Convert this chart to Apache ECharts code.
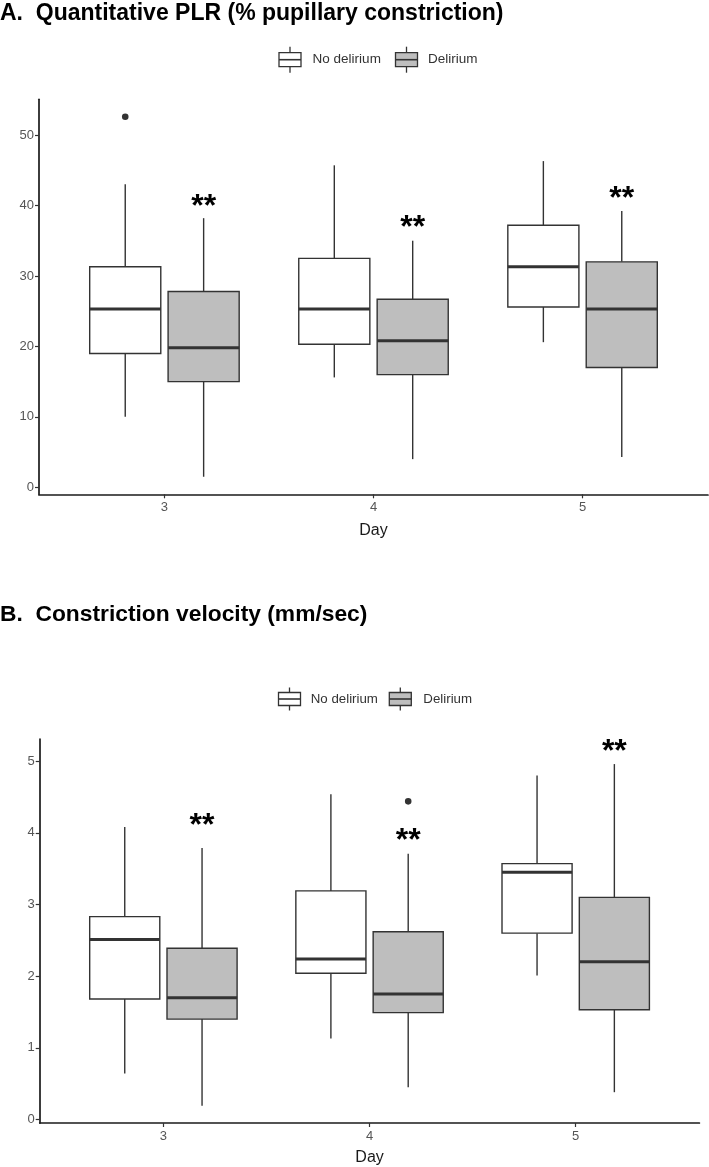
<!DOCTYPE html>
<html>
<head>
<meta charset="utf-8">
<script src="https://cdn.jsdelivr.net/npm/echarts@6/dist/echarts.min.js"></script>
<style>
html,body{margin:0;padding:0;background:#fff;}
#chart{width:709px;height:1167px;}
</style>
</head>
<body>
<div id="chart"></div>
<script>
// ---------- data ----------
const days = [3, 4, 5];
const groups = ['No delirium', 'Delirium'];

// Panel A: Quantitative PLR (% pupillary constriction)
// each row: [lower whisker, Q1, median, Q3, upper whisker]
const plrNoDelirium = [
  [10.0, 19.0, 25.3, 31.3, 43.0],
  [15.6, 20.3, 25.3, 32.5, 45.7],
  [20.6, 25.6, 31.3, 37.2, 46.3]
];
const plrDelirium = [
  [1.5, 15.0, 19.8, 27.8, 38.2],
  [4.0, 16.0, 20.8, 26.7, 35.0],
  [4.3, 17.0, 25.3, 32.0, 39.2]
];
const plrOutliersNoDelirium = [[3, 52.6]];
const plrOutliersDelirium = [];
const plrStars = [[3, 40.9], [4, 37.8], [5, 42.0]];
const plrTicks = [0, 10, 20, 30, 40, 50];

// Panel B: Constriction velocity (mm/sec)
const cvNoDelirium = [
  [0.64, 1.68, 2.51, 2.83, 4.08],
  [1.13, 2.04, 2.24, 3.19, 4.54],
  [2.01, 2.60, 3.45, 3.57, 4.80]
];
const cvDelirium = [
  [0.19, 1.40, 1.70, 2.39, 3.79],
  [0.45, 1.49, 1.75, 2.62, 3.71],
  [0.38, 1.53, 2.20, 3.10, 4.96]
];
const cvOutliersNoDelirium = [];
const cvOutliersDelirium = [[4, 4.44]];
const cvStars = [[3, 4.20], [4, 3.99], [5, 5.23]];
const cvTicks = [0, 1, 2, 3, 4, 5];

// ---------- styling ----------
const FONT = "'Liberation Sans', Arial, Helvetica, sans-serif";
const LINE = '#333333';
const FILL_ND = '#ffffff';
const FILL_D = '#bebebe';
const DODGE = 0.1875;
const HALF_W = 0.17;

function boxSeries(gridIdx, rows, offset, fill, name) {
  return {
    type: 'custom',
    name: name,
    xAxisIndex: gridIdx,
    yAxisIndex: gridIdx,
    data: rows.map((r, i) => [days[i]].concat(r)),
    encode: { x: 0, y: [1, 2, 3, 4, 5] },
    z: 3,
    renderItem: function (params, api) {
      const x = api.value(0) + offset;
      const lo = api.coord([x, api.value(1)]);
      const q1 = api.coord([x, api.value(2)]);
      const md = api.coord([x, api.value(3)]);
      const q3 = api.coord([x, api.value(4)]);
      const hi = api.coord([x, api.value(5)]);
      const left = api.coord([x - HALF_W, api.value(3)])[0];
      const right = api.coord([x + HALF_W, api.value(3)])[0];
      const st = { stroke: LINE, lineWidth: 1.4, fill: null };
      return {
        type: 'group',
        children: [
          { type: 'line', shape: { x1: q3[0], y1: q3[1], x2: hi[0], y2: hi[1] }, style: st },
          { type: 'line', shape: { x1: q1[0], y1: q1[1], x2: lo[0], y2: lo[1] }, style: st },
          { type: 'rect', shape: { x: left, y: q3[1], width: right - left, height: q1[1] - q3[1] },
            style: { fill: fill, stroke: LINE, lineWidth: 1.4 } },
          { type: 'line', shape: { x1: left, y1: md[1], x2: right, y2: md[1] },
            style: { stroke: LINE, lineWidth: 3 } }
        ]
      };
    }
  };
}

function outlierSeries(gridIdx, pts, offset) {
  return {
    type: 'custom',
    xAxisIndex: gridIdx,
    yAxisIndex: gridIdx,
    data: pts,
    encode: { x: 0, y: 1 },
    z: 4,
    renderItem: function (params, api) {
      const p = api.coord([api.value(0) + offset, api.value(1)]);
      return { type: 'circle', shape: { cx: p[0], cy: p[1], r: 3.3 }, style: { fill: LINE } };
    }
  };
}

function starSeries(gridIdx, pts, offset) {
  const fs = 32;
  return {
    type: 'custom',
    xAxisIndex: gridIdx,
    yAxisIndex: gridIdx,
    data: pts,
    encode: { x: 0, y: 1 },
    z: 5,
    renderItem: function (params, api) {
      const p = api.coord([api.value(0) + offset, api.value(1)]);
      return {
        type: 'text',
        style: {
          text: '**', x: p[0], y: p[1] + fs * 0.24,
          align: 'center', verticalAlign: 'middle',
          font: 'bold ' + fs + 'px ' + FONT, fill: '#000'
        }
      };
    }
  };
}

function xAxis(gridIdx, nameGap) {
  return {
    type: 'value', gridIndex: gridIdx, min: 2.4, max: 5.6,
    name: 'Day', nameLocation: 'middle', nameGap: nameGap,
    nameTextStyle: { fontSize: 16, color: '#1a1a1a', fontFamily: FONT },
    axisLine: { show: true, onZero: false, lineStyle: { color: '#1a1a1a', width: 1.7 } },
    axisTick: { show: true, length: 4, customValues: days, lineStyle: { color: '#333', width: 1.2 } },
    axisLabel: { customValues: days, margin: 7, fontSize: 13, color: '#555', fontFamily: FONT },
    splitLine: { show: false }
  };
}

function yAxis(gridIdx, min, max, ticks) {
  return {
    type: 'value', gridIndex: gridIdx, min: min, max: max,
    axisLine: { show: true, onZero: false, lineStyle: { color: '#1a1a1a', width: 1.7 } },
    axisTick: { show: true, length: 4, customValues: ticks, lineStyle: { color: '#333', width: 1.2 } },
    axisLabel: { customValues: ticks, margin: 5, fontSize: 13, color: '#555', fontFamily: FONT },
    splitLine: { show: false }
  };
}

function legendKey(cx, cy, fill, boxH, whisk) {
  const w = 22;
  return [
    { type: 'line', shape: { x1: cx, y1: cy - boxH / 2 - whisk, x2: cx, y2: cy + boxH / 2 + whisk },
      style: { stroke: LINE, lineWidth: 1.3 }, z: 10 },
    { type: 'rect', shape: { x: cx - w / 2, y: cy - boxH / 2, width: w, height: boxH },
      style: { fill: fill, stroke: LINE, lineWidth: 1.3 }, z: 11 },
    { type: 'line', shape: { x1: cx - w / 2, y1: cy, x2: cx + w / 2, y2: cy },
      style: { stroke: LINE, lineWidth: 1.6 }, z: 12 }
  ];
}
function legendText(x, cy, txt, fs) {
  return { type: 'text', x: x, y: cy, z: 12,
    style: { text: txt, font: fs + 'px ' + FONT, fill: '#333', verticalAlign: 'middle', align: 'left' } };
}

const chart = echarts.init(document.getElementById('chart'), null, { renderer: 'canvas' });
chart.setOption({
  backgroundColor: '#fff',
  animation: false,
  title: [
    { text: 'A.  Quantitative PLR (% pupillary constriction)', left: 0, top: 2, padding: 0,
      textStyle: { fontSize: 23, fontWeight: 'bold', color: '#000', fontFamily: FONT } },
    { text: 'B.  Constriction velocity (mm/sec)', left: 0, top: 603, padding: 0,
      textStyle: { fontSize: 22.8, fontWeight: 'bold', color: '#000', fontFamily: FONT } }
  ],
  grid: [
    { left: 39, right: 1, top: 99.3, bottom: 672.7 },
    { left: 39.7, right: 9.6, top: 739, bottom: 43.3 }
  ],
  xAxis: [xAxis(0, 28), xAxis(1, 27)],
  yAxis: [yAxis(0, -0.99, 55.07, plrTicks), yAxis(1, -0.05, 5.31, cvTicks)],
  series: [
    boxSeries(0, plrNoDelirium, -DODGE, FILL_ND, groups[0]),
    boxSeries(0, plrDelirium, DODGE, FILL_D, groups[1]),
    outlierSeries(0, plrOutliersNoDelirium, -DODGE),
    outlierSeries(0, plrOutliersDelirium, DODGE),
    starSeries(0, plrStars, DODGE),
    boxSeries(1, cvNoDelirium, -DODGE, FILL_ND, groups[0]),
    boxSeries(1, cvDelirium, DODGE, FILL_D, groups[1]),
    outlierSeries(1, cvOutliersNoDelirium, -DODGE),
    outlierSeries(1, cvOutliersDelirium, DODGE),
    starSeries(1, cvStars, DODGE)
  ],
  graphic: [].concat(
    legendKey(290, 59.7, FILL_ND, 14, 6),
    [legendText(312.6, 59.7, groups[0], 13.5)],
    legendKey(406.5, 59.7, FILL_D, 14, 6),
    [legendText(428, 59.7, groups[1], 13.5)],
    legendKey(289.5, 699, FILL_ND, 13, 5),
    [legendText(310.7, 699, groups[0], 13.3)],
    legendKey(400.3, 699, FILL_D, 13, 5),
    [legendText(423.3, 699, groups[1], 13.3)]
  )
});
</script>
</body>
</html>
